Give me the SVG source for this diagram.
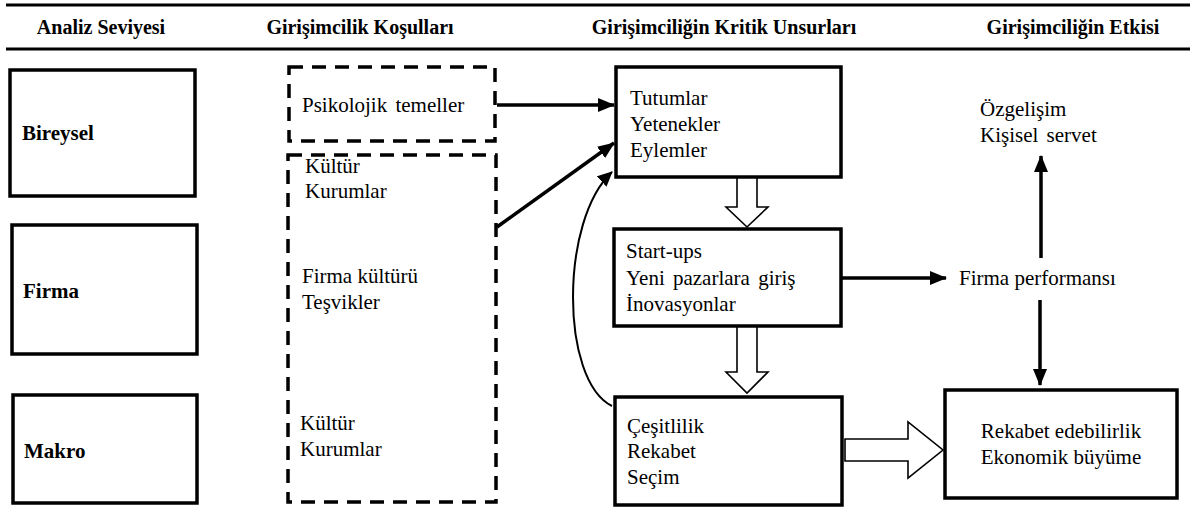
<svg xmlns="http://www.w3.org/2000/svg" width="1192" height="507" viewBox="0 0 1192 507">
<style>
text{font-family:'Liberation Serif','DejaVu Serif',serif;fill:#000}
.h{font-size:20px;font-weight:bold;text-anchor:middle}
.lb{font-size:21px;font-weight:bold}
.t{font-size:21px}
.box{fill:#fff;stroke:#000;stroke-width:3.5}
.dash{fill:none;stroke:#000;stroke-width:3.5;stroke-dasharray:14 9}
.hol{fill:#fff;stroke:#000;stroke-width:1.6;stroke-linejoin:miter}
.ar{fill:none;stroke:#000;stroke-width:3.5}
</style>
<defs>
<marker id="ah" markerUnits="userSpaceOnUse" markerWidth="18" markerHeight="14" refX="16" refY="7" orient="auto"><path d="M0,0 L17,7 L0,14 Z" fill="#000"/></marker>
<marker id="ah2" markerUnits="userSpaceOnUse" markerWidth="16" markerHeight="14" refX="14" refY="7" orient="auto"><path d="M0,0 L15,7 L0,14 Z" fill="#000"/></marker>
</defs>
<rect width="1192" height="507" fill="#fff"/>
<g font-family="Liberation Serif, DejaVu Serif, serif">
<g id="header">
<line x1="6" y1="5" x2="1190" y2="5" stroke="#000" stroke-width="3"/>
<line x1="6" y1="49" x2="1190" y2="49" stroke="#000" stroke-width="3"/>
<text class="h" x="101" y="34">Analiz Seviyesi</text>
<text class="h" x="360" y="34">Girişimcilik Koşulları</text>
<text class="h" x="724" y="34">Girişimciliğin Kritik Unsurları</text>
<text class="h" x="1073" y="34">Girişimciliğin Etkisi</text>
</g>
<g id="bireysel"><rect class="box" x="10" y="70" width="185" height="126"/><text class="lb" x="22" y="140">Bireysel</text></g>
<g id="firma"><rect class="box" x="12" y="225" width="185" height="129"/><text class="lb" x="23" y="298">Firma</text></g>
<g id="makro"><rect class="box" x="13" y="395" width="184" height="108"/><text class="lb" x="24" y="458">Makro</text></g>
<g id="psikolojik"><rect class="dash" x="289" y="67" width="206" height="74"/><text class="t" x="302" y="112" word-spacing="3">Psikolojik temeller</text></g>
<g id="kosullar"><rect class="dash" x="288" y="155" width="208" height="347"/>
<text class="t" x="305" y="173">Kültür</text><text class="t" x="305" y="198">Kurumlar</text>
<text class="t" x="302" y="283">Firma kültürü</text><text class="t" x="302" y="309">Teşvikler</text>
<text class="t" x="300" y="430">Kültür</text><text class="t" x="300" y="456">Kurumlar</text></g>
<g id="tutumlar"><rect class="box" x="616" y="67" width="225" height="110"/>
<text class="t" x="630" y="105">Tutumlar</text><text class="t" x="630" y="131">Yetenekler</text><text class="t" x="630" y="157">Eylemler</text></g>
<g id="startups"><rect class="box" x="614" y="229" width="227" height="97"/>
<text class="t" x="626" y="258">Start-ups</text><text class="t" x="626" y="285" word-spacing="3">Yeni pazarlara giriş</text><text class="t" x="626" y="311">İnovasyonlar</text></g>
<g id="cesitlilik"><rect class="box" x="615" y="397" width="227" height="108"/>
<text class="t" x="627" y="433">Çeşitlilik</text><text class="t" x="627" y="458">Rekabet</text><text class="t" x="627" y="484">Seçim</text></g>
<g id="rekabet"><rect class="box" x="945" y="390" width="232" height="108"/>
<text class="t" x="1061" y="438" text-anchor="middle">Rekabet edebilirlik</text><text class="t" x="1061" y="464" text-anchor="middle">Ekonomik büyüme</text></g>
<g id="ozgelisim"><text class="t" x="980" y="116">Özgelişim</text><text class="t" x="980" y="142" word-spacing="3">Kişisel servet</text></g>
<g id="performans"><text class="t" x="959" y="285">Firma performansı</text></g>
</g>
<g id="connectors">
<line class="ar" x1="497" y1="105" x2="614" y2="105" marker-end="url(#ah)"/>
<line class="ar" x1="497" y1="227" x2="614" y2="143" marker-end="url(#ah)"/>
<path d="M612 406 C560 380 560 220 612 172" fill="none" stroke="#000" stroke-width="2" marker-end="url(#ah2)"/>
<polygon class="hol" points="737,178 757,178 757,207 768,207 747,227 726,207 737,207"/>
<polygon class="hol" points="737,327 757,327 757,372 768,372 747,393 726,372 737,372"/>
<polygon class="hol" points="845,439 908,439 908,422 943,450 908,478 908,461 845,461"/>
<line class="ar" x1="842" y1="278" x2="946" y2="278" marker-end="url(#ah)"/>
<line class="ar" x1="1041" y1="258" x2="1041" y2="156" marker-end="url(#ah)"/>
<line class="ar" x1="1040" y1="300" x2="1040" y2="385" marker-end="url(#ah)"/>
</g>
</svg>
